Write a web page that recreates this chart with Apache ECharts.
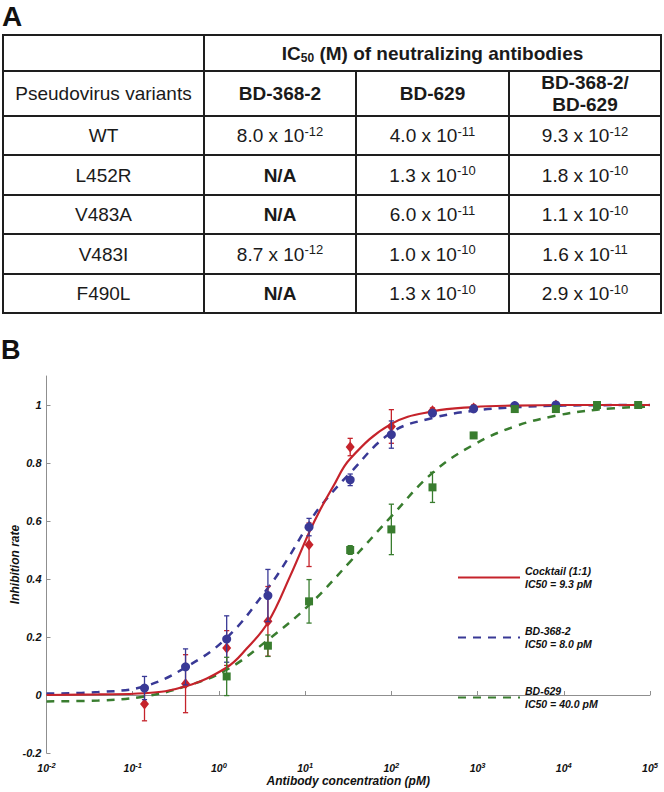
<!DOCTYPE html>
<html><head><meta charset="utf-8">
<script src="https://cdn.jsdelivr.net/npm/echarts@6/dist/echarts.min.js"></script>
<style>html,body{margin:0;padding:0;background:#fff}#c{width:664px;height:792px}</style>
</head><body><div id="c"></div>
<script>
// ---------------- Panel A: table data ----------------
const variants = ['WT', 'L452R', 'V483A', 'V483I', 'F490L'];
const antibodyCols = ['BD-368-2', 'BD-629', 'BD-368-2/\nBD-629'];
const ic50_BD368_2 = ['8.0 x 10^-12', 'N/A', 'N/A', '8.7 x 10^-12', 'N/A'];
const ic50_BD629 = ['4.0 x 10^-11', '1.3 x 10^-10', '6.0 x 10^-11', '1.0 x 10^-10', '1.3 x 10^-10'];
const ic50_cocktail = ['9.3 x 10^-12', '1.8 x 10^-10', '1.1 x 10^-10', '1.6 x 10^-11', '2.9 x 10^-10'];

// ---------------- Panel B: chart data ----------------
const seriesNames = ['Cocktail (1:1)', 'BD-368-2', 'BD-629'];
const ic50Labels = ['9.3', '8.0', '40.0'];

// measured points (concentration in pM)
const concCocktail = [0.137, 0.41, 1.23, 3.7, 11.1, 33.3, 100, 300, 900, 2700, 8100];
const meanCocktail = [-0.031, 0.039, 0.162, 0.254, 0.518, 0.855, 0.926, 0.98, 0.99, 0.995, 1.0];
const errCocktail  = [0.058, 0.10, 0.06, 0.12, 0.075, 0.03, 0.058, 0.01, 0.01, 0.005, 0.005];

const concBD368 = [0.137, 0.41, 1.23, 3.7, 11.1, 33.3, 100, 300, 900, 2700, 8100];
const meanBD368 = [0.024, 0.097, 0.193, 0.343, 0.579, 0.742, 0.898, 0.972, 0.987, 0.998, 1.0];
const errBD368  = [0.04, 0.062, 0.08, 0.09, 0.03, 0.02, 0.047, 0.01, 0.005, 0.005, 0.005];

const concBD629 = [1.23, 3.7, 11.1, 33.3, 100, 300, 900, 2700, 8100, 24300, 72900];
const meanBD629 = [0.064, 0.170, 0.323, 0.50, 0.571, 0.716, 0.895, 0.986, 0.986, 1.0, 1.0];
const errBD629  = [0.066, 0.037, 0.075, 0.015, 0.087, 0.052, 0.01, 0.005, 0.005, 0.004, 0.004];

// fitted curves
const fitXCocktail = [0.01, 0.04, 0.137, 0.41, 1.23, 2.1, 3.7, 6.7, 11.1, 15, 21.2, 33.3, 100, 300, 900, 2700, 10000, 100000];
const fitYCocktail = [0.0, 0.002, 0.006, 0.03, 0.095, 0.16, 0.25, 0.41, 0.56, 0.64, 0.72, 0.815, 0.935, 0.978, 0.993, 0.998, 1.0, 1.0];
const fitXBD368 = [0.01, 0.04, 0.137, 0.41, 1.23, 3.7, 6.2, 11.1, 15, 33.3, 100, 300, 900, 2700, 10000, 100000];
const fitYBD368 = [0.005, 0.010, 0.03, 0.095, 0.197, 0.369, 0.467, 0.593, 0.65, 0.766, 0.905, 0.955, 0.98, 0.992, 0.998, 1.0];
const fitXBD629 = [0.01, 0.04, 0.137, 0.41, 1.23, 3.7, 11.1, 33.3, 100, 300, 900, 2700, 8100, 24300, 100000];
const fitYBD629 = [-0.022, -0.019, -0.005, 0.03, 0.087, 0.19, 0.31, 0.46, 0.616, 0.766, 0.863, 0.926, 0.963, 0.984, 0.995];

const xTickValues = [0.01, 0.1, 1, 10, 100, 1000, 10000, 100000];
const xTickExps = ['-2', '-1', '0', '1', '2', '3', '4', '5'];
const yTickValues = [-0.2, 0, 0.2, 0.4, 0.6, 0.8, 1];

// ---------------- rendering ----------------
const FONT = '"Liberation Sans", Arial, Helvetica, sans-serif';
const RED = '#c5232b', BLUE = '#393996', GREEN = '#397d2f';
const chart = echarts.init(document.getElementById('c'), null, {renderer: 'svg', width: 664, height: 792});

const zip = (xs, ys) => xs.map((x, i) => [x, ys[i]]);
const zip3 = (xs, ys, es) => xs.map((x, i) => [x, ys[i], es[i]]);

// table graphic
const colX = [3, 204, 356, 509, 661];
const rowY = [35, 71, 116, 155, 195, 234, 274, 313];
const TC = '#1a1a1a';
const tableRich = {
  n: {fontFamily: FONT, fontSize: 19, lineHeight: 22, color: TC},
  b: {fontFamily: FONT, fontSize: 19, fontWeight: 'bold', lineHeight: 22, color: TC},
  s: {fontFamily: FONT, fontSize: 13, lineHeight: 19, verticalAlign: 'top', color: TC},
  sub: {fontFamily: FONT, fontSize: 12, fontWeight: 'bold', lineHeight: 14, verticalAlign: 'bottom', color: TC}
};
const g = [];
const ls = {stroke: '#1e1e1e', lineWidth: 2};
rowY.forEach(y => g.push({type: 'line', shape: {x1: colX[0] - 1, y1: y, x2: colX[4] + 1, y2: y}, style: ls}));
[colX[0], colX[1], colX[4]].forEach(x => g.push({type: 'line', shape: {x1: x, y1: rowY[0], x2: x, y2: rowY[rowY.length - 1]}, style: ls}));
[colX[2], colX[3]].forEach(x => g.push({type: 'line', shape: {x1: x, y1: rowY[1], x2: x, y2: rowY[rowY.length - 1]}, style: ls}));

function addText(text, cx, cy) {
  g.push({type: 'text', x: cx, y: cy, style: {text: text, rich: tableRich, align: 'center', verticalAlign: 'middle',
    fontFamily: FONT, fontSize: 19, fill: TC}});
}
function cellRich(str) {
  if (str.indexOf('^') >= 0) { const p = str.split('^'); return '{n|' + p[0] + '}{s|' + p[1] + '}'; }
  return '{b|' + str + '}';
}
const cx = i => (colX[i] + colX[i + 1]) / 2;
const cy = j => (rowY[j] + rowY[j + 1]) / 2;
addText('{b|IC}{sub|50}{b| (M) of neutralizing antibodies}', (colX[1] + colX[4]) / 2, cy(0));
addText('{n|Pseudovirus variants}', cx(0), cy(1));
antibodyCols.forEach((a, i) => addText(a.split('\n').map(t => '{b|' + t + '}').join('\n'), cx(i + 1), cy(1)));
const tableCols = [ic50_BD368_2, ic50_BD629, ic50_cocktail];
variants.forEach((v, j) => {
  addText('{n|' + v + '}', cx(0), cy(j + 2));
  tableCols.forEach((col, i) => addText(cellRich(col[j]), cx(i + 1), cy(j + 2)));
});
// panel letters
g.push({type: 'text', x: 2, y: 16, style: {text: 'A', fontFamily: FONT, fontSize: 28, fontWeight: 'bold', fill: '#111', verticalAlign: 'middle'}});
g.push({type: 'text', x: 1, y: 350, style: {text: 'B', fontFamily: FONT, fontSize: 27, fontWeight: 'bold', fill: '#111', verticalAlign: 'middle'}});

function errRender(color) {
  return function (params, api) {
    const x = api.value(0), y = api.value(1), e = api.value(2);
    const top = api.coord([x, y + e]), bot = api.coord([x, y - e]);
    const w = 2.6;
    const st = {stroke: color, lineWidth: 1.3, fill: null};
    return {type: 'group', children: [
      {type: 'line', shape: {x1: top[0], y1: top[1], x2: bot[0], y2: bot[1]}, style: st},
      {type: 'line', shape: {x1: top[0] - w, y1: top[1], x2: top[0] + w, y2: top[1]}, style: st},
      {type: 'line', shape: {x1: bot[0] - w, y1: bot[1], x2: bot[0] + w, y2: bot[1]}, style: st}
    ]};
  };
}

const axisFont = {fontFamily: FONT, fontWeight: 'bold', fontStyle: 'italic', color: '#111'};
const icByName = {};
seriesNames.forEach((n, i) => icByName[n] = ic50Labels[i]);

chart.setOption({
  animation: false,
  graphic: g,
  grid: {left: 46.5, right: 14, top: 376, bottom: 39, containLabel: false, outerBoundsMode: 'none'},
  legend: {
    data: seriesNames, orient: 'vertical', left: 452, top: 560, itemWidth: 62, itemHeight: 10, itemGap: 35,
    selectedMode: false,
    itemStyle: {opacity: 0},
    formatter: n => n + '\nIC50 = ' + icByName[n] + ' pM',
    textStyle: {fontFamily: FONT, fontSize: 10.5, fontWeight: 'bold', fontStyle: 'italic', lineHeight: 12.5, color: '#111'}
  },
  xAxis: {
    type: 'log', logBase: 10, min: 0.01, max: 100000,
    name: 'Antibody concentration (pM)', nameLocation: 'middle', nameGap: 22,
    nameTextStyle: Object.assign({fontSize: 12}, axisFont),
    axisLine: {lineStyle: {color: '#8f8f8f', width: 1}},
    axisTick: {inside: true, length: 4, lineStyle: {color: '#8f8f8f'}},
    minorTick: {show: false}, splitLine: {show: false},
    axisLabel: {
      margin: 8,
      formatter: v => {
        const k = xTickValues.findIndex(t => Math.abs(Math.log10(t) - Math.log10(v)) < 1e-6);
        return '{b|10}{s|' + (k >= 0 ? xTickExps[k] : '') + '}';
      },
      rich: {
        b: Object.assign({fontSize: 10.5, lineHeight: 14}, axisFont),
        s: Object.assign({fontSize: 7.5, verticalAlign: 'top'}, axisFont)
      }
    }
  },
  yAxis: {
    type: 'value', min: -0.2, max: 1.1,
    name: 'Inhibition rate', nameLocation: 'middle', nameGap: 26, nameRotate: 90, nameMoveOverlap: false,
    nameTextStyle: Object.assign({fontSize: 12}, axisFont),
    axisLine: {show: true, lineStyle: {color: '#8f8f8f', width: 1}},
    axisTick: {show: true, inside: true, length: 4, customValues: yTickValues, lineStyle: {color: '#8f8f8f'}},
    splitLine: {show: false},
    axisLabel: Object.assign({fontSize: 11, margin: 5, customValues: yTickValues}, axisFont)
  },
  series: [
    {name: seriesNames[1], type: 'line', data: zip(fitXBD368, fitYBD368), smooth: 0.4, symbol: 'none',
      lineStyle: {color: BLUE, width: 2.5, type: [8, 7]}, itemStyle: {color: BLUE}, z: 2},
    {name: seriesNames[2], type: 'line', data: zip(fitXBD629, fitYBD629), smooth: 0.4, symbol: 'none',
      lineStyle: {color: GREEN, width: 2.5, type: [8, 7]}, itemStyle: {color: GREEN}, z: 2},
    {name: seriesNames[0], type: 'line', data: zip(fitXCocktail, fitYCocktail), smooth: 0.4, symbol: 'none',
      lineStyle: {color: RED, width: 2.2}, itemStyle: {color: RED}, z: 2},
    {type: 'custom', renderItem: errRender(RED), data: zip3(concCocktail, meanCocktail, errCocktail), encode: {x: 0, y: 1}, z: 3},
    {type: 'scatter', data: zip(concCocktail, meanCocktail), symbol: 'diamond', symbolSize: [9, 11], itemStyle: {color: RED, opacity: 1}, z: 3},
    {type: 'custom', renderItem: errRender(BLUE), data: zip3(concBD368, meanBD368, errBD368), encode: {x: 0, y: 1}, z: 4},
    {type: 'scatter', data: zip(concBD368, meanBD368), symbol: 'circle', symbolSize: 9, itemStyle: {color: BLUE, opacity: 1}, z: 4},
    {type: 'custom', renderItem: errRender(GREEN), data: zip3(concBD629, meanBD629, errBD629), encode: {x: 0, y: 1}, z: 5},
    {type: 'scatter', data: zip(concBD629, meanBD629), symbol: 'rect', symbolSize: 8, itemStyle: {color: GREEN, opacity: 1}, z: 5}
  ]
});
</script></body></html>
